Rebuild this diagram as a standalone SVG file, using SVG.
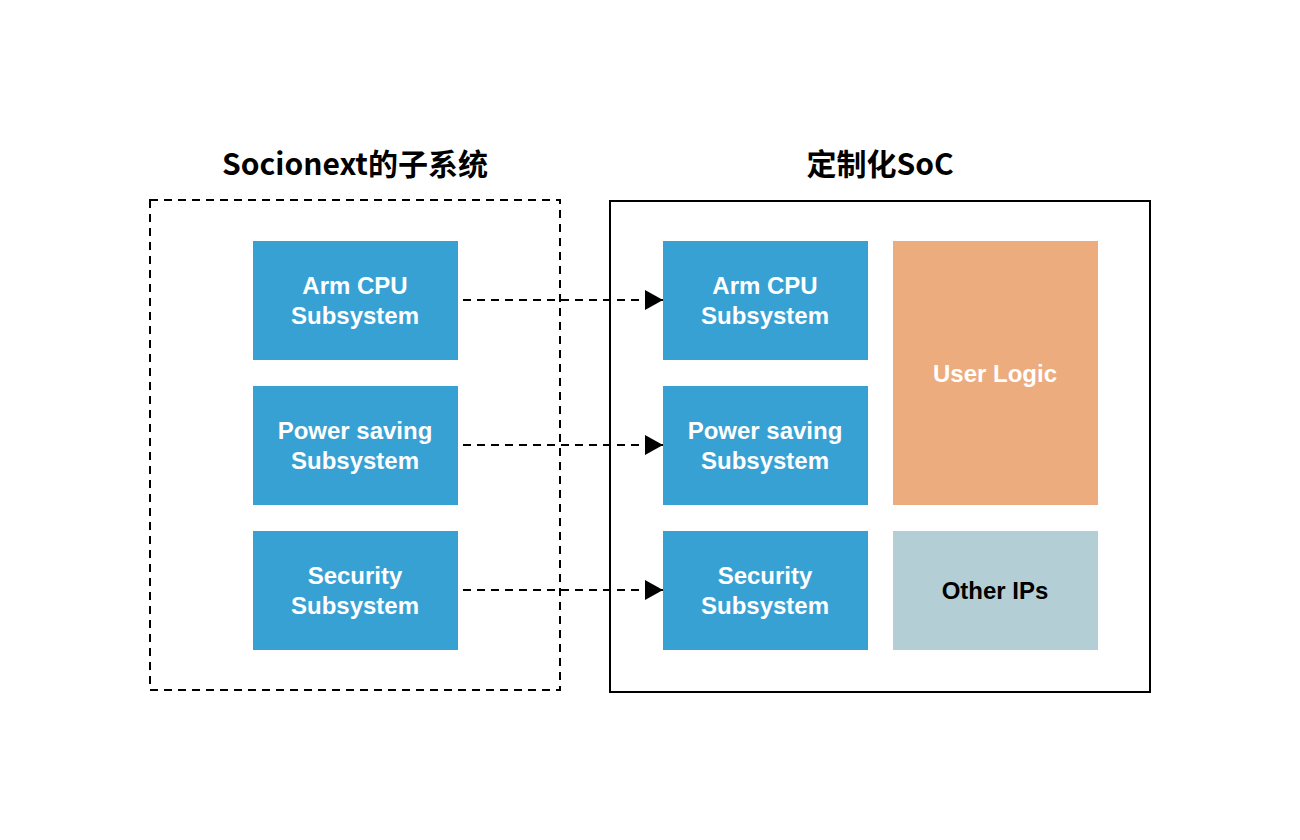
<svg xmlns="http://www.w3.org/2000/svg" width="1300" height="840" viewBox="0 0 1300 840">
<defs>
<style>
.t{font-family:"Noto Sans CJK SC","Noto Sans",sans-serif;font-weight:bold;font-size:30px;fill:#000;text-anchor:middle}
.b{font-family:"Liberation Sans",Arial,sans-serif;font-weight:bold;font-size:24px;fill:#fff;text-anchor:middle}
.blue{fill:#38a1d3}
.c{stroke:#000;stroke-width:2;stroke-dasharray:8 6;fill:none}
</style>
<marker id="ah" markerWidth="20" markerHeight="20" refX="18" refY="10" orient="auto" markerUnits="userSpaceOnUse">
<path d="M0,0 L18,10 L0,20 Z" fill="#000"/>
</marker>
</defs>
<rect width="1300" height="840" fill="#fff"/>
<g id="left-group">
<rect x="150" y="200" width="410" height="490" fill="none" stroke="#000" stroke-width="2" stroke-dasharray="8 6"/>
<text class="t" x="355" y="175">Socionext的子系统</text>
</g>
<g id="right-group">
<rect x="610" y="201" width="540" height="491" fill="none" stroke="#000" stroke-width="2"/>
<text class="t" x="880" y="175">定制化SoC</text>
</g>
<g id="l-arm"><rect class="blue" x="253" y="241" width="205" height="119"/><text class="b"><tspan x="355" y="294">Arm CPU</tspan><tspan x="355" y="324">Subsystem</tspan></text></g>
<g id="l-power"><rect class="blue" x="253" y="386" width="205" height="119"/><text class="b"><tspan x="355" y="439">Power saving</tspan><tspan x="355" y="469">Subsystem</tspan></text></g>
<g id="l-sec"><rect class="blue" x="253" y="531" width="205" height="119"/><text class="b"><tspan x="355" y="584">Security</tspan><tspan x="355" y="614">Subsystem</tspan></text></g>
<g id="r-arm"><rect class="blue" x="663" y="241" width="205" height="119"/><text class="b"><tspan x="765" y="294">Arm CPU</tspan><tspan x="765" y="324">Subsystem</tspan></text></g>
<g id="r-power"><rect class="blue" x="663" y="386" width="205" height="119"/><text class="b"><tspan x="765" y="439">Power saving</tspan><tspan x="765" y="469">Subsystem</tspan></text></g>
<g id="r-sec"><rect class="blue" x="663" y="531" width="205" height="119"/><text class="b"><tspan x="765" y="584">Security</tspan><tspan x="765" y="614">Subsystem</tspan></text></g>
<g id="user-logic"><rect x="893" y="241" width="205" height="264" fill="#ecac7e"/><text class="b" x="995" y="382">User Logic</text></g>
<g id="other-ips"><rect x="893" y="531" width="205" height="119" fill="#b3cfd5"/><text class="b" x="995" y="599" style="fill:#000">Other IPs</text></g>
<g id="connectors">
<line class="c" x1="463" y1="300" x2="663" y2="300" marker-end="url(#ah)"/>
<line class="c" x1="463" y1="445" x2="663" y2="445" marker-end="url(#ah)"/>
<line class="c" x1="463" y1="590" x2="663" y2="590" marker-end="url(#ah)"/>
</g>
</svg>
